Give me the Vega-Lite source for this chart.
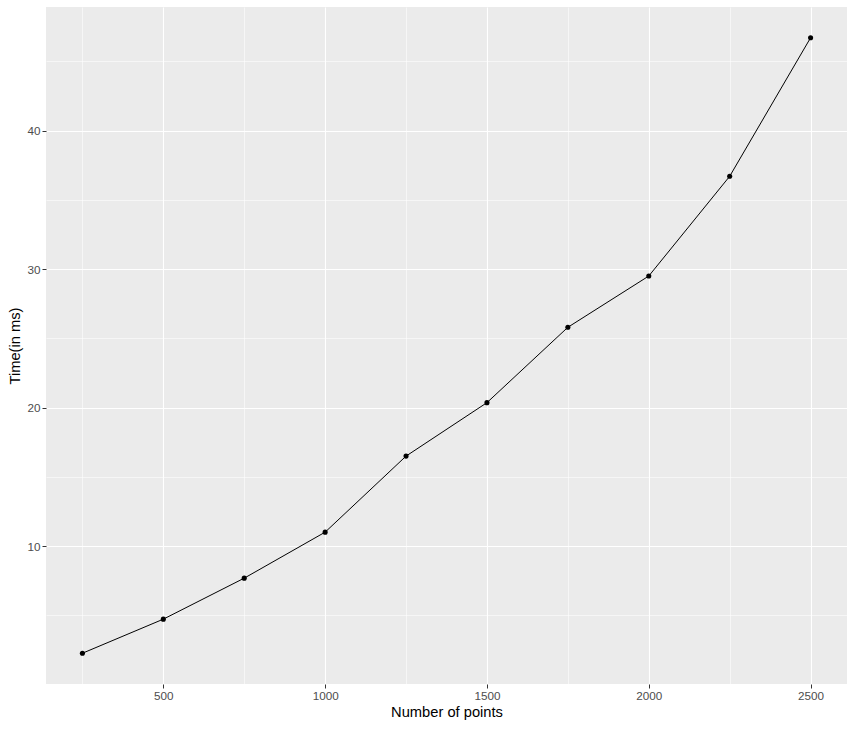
{
  "$schema": "https://vega.github.io/schema/vega-lite/v6.json",
  "width": 801,
  "height": 677,
  "autosize": "none",
  "padding": {"left": 46, "top": 7, "right": 8, "bottom": 45},
  "background": "white",
  "config": {
    "view": {"fill": "#EBEBEB", "stroke": null},
    "font": "Liberation Sans",
    "axis": {
      "labelFont": "Liberation Sans",
      "titleFont": "Liberation Sans",
      "labelFontSize": 11.7,
      "labelColor": "#4D4D4D",
      "titleFontSize": 14.7,
      "titleFontWeight": "normal",
      "titleColor": "#000000",
      "tickColor": "#333333",
      "tickSize": 4,
      "tickWidth": 1,
      "domain": false,
      "gridColor": "#FFFFFF"
    }
  },
  "data": {
    "values": [
      {"n": 250, "t": 2.27},
      {"n": 500, "t": 4.73},
      {"n": 750, "t": 7.69},
      {"n": 1000, "t": 11.01},
      {"n": 1250, "t": 16.5},
      {"n": 1500, "t": 20.36},
      {"n": 1750, "t": 25.8},
      {"n": 2000, "t": 29.5},
      {"n": 2250, "t": 36.7},
      {"n": 2500, "t": 46.7}
    ]
  },
  "resolve": {"axis": {"x": "independent", "y": "independent"}},
  "layer": [
    {
      "mark": {"type": "point", "opacity": 0},
      "encoding": {
        "x": {"field": "n", "type": "quantitative", "scale": {"domain": [137.5, 2612.5], "nice": false, "zero": false},
          "axis": {"orient": "bottom", "values": [250, 750, 1250, 1750, 2250], "grid": true, "gridWidth": 0.55, "labels": false, "ticks": false, "title": null}},
        "y": {"field": "t", "type": "quantitative", "scale": {"domain": [0.05, 48.92], "nice": false, "zero": false},
          "axis": {"orient": "left", "values": [5, 15, 25, 35, 45], "grid": true, "gridWidth": 0.55, "labels": false, "ticks": false, "title": null}}
      }
    },
    {
      "mark": {"type": "line", "color": "#000000", "strokeWidth": 1},
      "encoding": {
        "x": {"field": "n", "type": "quantitative",
          "axis": {"orient": "bottom", "values": [500, 1000, 1500, 2000, 2500], "format": "d", "grid": true, "gridWidth": 1.1, "labelPadding": 2, "titlePadding": 3, "title": "Number of points"}},
        "y": {"field": "t", "type": "quantitative",
          "axis": {"orient": "left", "values": [10, 20, 30, 40], "format": "d", "grid": true, "gridWidth": 1.1, "labelPadding": 2, "titlePadding": 4, "title": "Time(in ms)"}}
      }
    },
    {
      "mark": {"type": "point", "filled": true, "color": "#000000", "opacity": 1, "size": 26},
      "encoding": {
        "x": {"field": "n", "type": "quantitative", "axis": null},
        "y": {"field": "t", "type": "quantitative", "axis": null}
      }
    }
  ]
}
